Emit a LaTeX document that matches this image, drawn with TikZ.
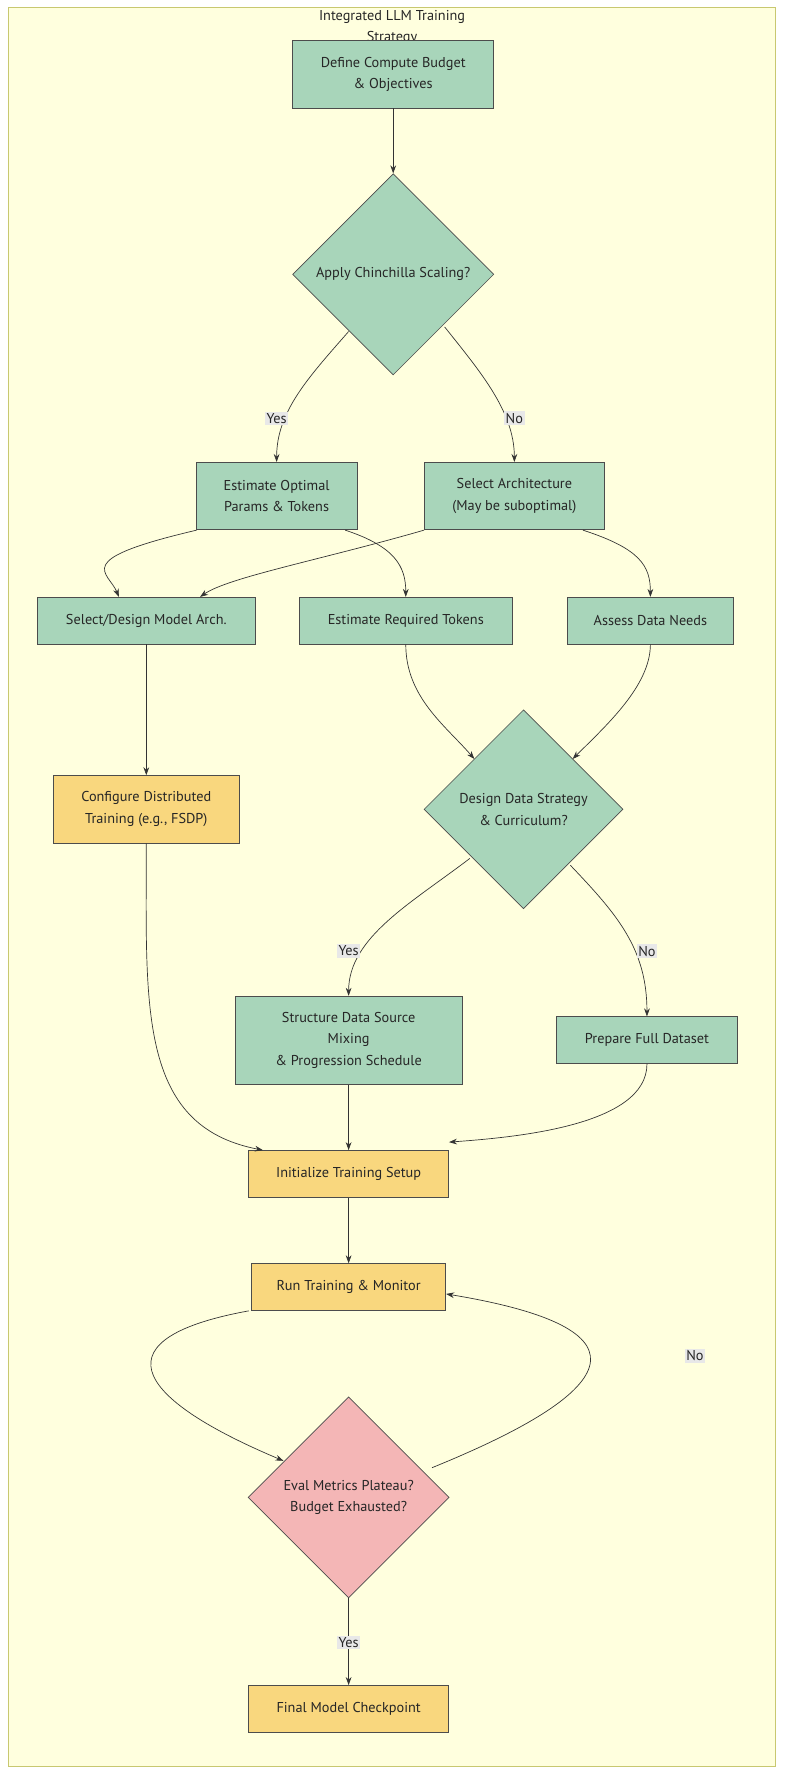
\documentclass[tikz,border=0pt]{standalone}
\usepackage{fontspec}
\setmainfont{PT Sans}
\usetikzlibrary{shapes.geometric,arrows.meta}
\definecolor{grn}{HTML}{A8D5BA}
\definecolor{org}{HTML}{F9D77E}
\definecolor{pnk}{HTML}{F4B6B6}
\definecolor{frm}{HTML}{FFFFDE}
\definecolor{frb}{HTML}{C8C870}
\definecolor{lbl}{HTML}{E8E8E8}
\begin{document}
\begin{tikzpicture}[x=1pt,y=-1pt,
 every node/.style={font=\fontsize{12.5}{19}\selectfont,text=black!85,align=center},
 box/.style={draw=black!70,line width=0.6pt,inner sep=0pt},
 dia/.style={draw=black!70,line width=0.6pt,diamond,inner sep=0pt,minimum width=176pt,minimum height=176pt},
 lab/.style={fill=lbl,inner sep=1.5pt,font=\fontsize{12.5}{14}\selectfont},
 edge/.style={draw=black!80,line width=0.6pt,-{Stealth[length=7pt,width=5pt]}}]
\useasboundingbox (0,0) rectangle (686,1559);
\draw[fill=frm,draw=frb,line width=0.6pt] (7,6) rectangle (678,1545);
\begin{scope}
\clip (7,6) rectangle (678,35);
\node (title) at (343,24) {Integrated LLM Training\\Strategy};
\end{scope}
\node[box,fill=grn,minimum width=176pt,minimum height=59pt] (def) at (344,65) {Define Compute Budget\\\& Objectives};
\node[dia,fill=grn] (d1) at (344,240) {Apply Chinchilla Scaling?};
\node[box,fill=grn,minimum width=141pt,minimum height=59pt] (eo) at (242,434) {Estimate Optimal\\Params \& Tokens};
\node[box,fill=grn,minimum width=158pt,minimum height=59pt] (sa) at (450,434) {Select Architecture\\(May be suboptimal)};
\node[box,fill=grn,minimum width=190pt,minimum height=41pt] (sd) at (128,543) {Select/Design Model Arch.};
\node[box,fill=grn,minimum width=186pt,minimum height=41pt] (er) at (355,543) {Estimate Required Tokens};
\node[box,fill=grn,minimum width=145pt,minimum height=41pt] (ad) at (569,543) {Assess Data Needs};
\node[dia,fill=grn,minimum width=174pt,minimum height=174pt] (d2) at (458,708) {Design Data Strategy\\\& Curriculum?};
\node[box,fill=org,minimum width=163pt,minimum height=59pt] (cd) at (128,708) {Configure Distributed\\Training (e.g., FSDP)};
\node[box,fill=grn,minimum width=199pt,minimum height=77pt] (sds) at (305,910) {Structure Data Source\\Mixing\\\& Progression Schedule};
\node[box,fill=grn,minimum width=158pt,minimum height=41pt] (pf) at (566,910) {Prepare Full Dataset};
\node[box,fill=org,minimum width=175pt,minimum height=41pt] (it) at (305,1027) {Initialize Training Setup};
\node[box,fill=org,minimum width=170pt,minimum height=41pt] (rt) at (305,1126) {Run Training \& Monitor};
\node[dia,fill=pnk] (d3) at (305,1310) {Eval Metrics Plateau?\\Budget Exhausted?};
\node[box,fill=org,minimum width=175pt,minimum height=41pt] (fm) at (305,1495) {Final Model Checkpoint};

\draw[edge] (def) -- (d1);
\draw[edge] (d1.south west) ++(0,0) (305,290) .. controls (270,330) and (242,360) .. (eo.north);
\draw[edge] (389,286) .. controls (420,325) and (450,360) .. (sa.north);
\node[lab] (y1) at (242,366) {Yes};
\node[lab] (n1) at (450,366) {No};
\draw[edge] ([xshift=-70pt]eo.south) .. controls (60,490) and (95,500) .. ([xshift=-24pt]sd.north);
\draw[edge] ([xshift=60pt]eo.south) .. controls (345,478) and (355,495) .. (er.north);
\draw[edge] ([xshift=-79pt]sa.south) .. controls (280,490) and (200,505) .. ([xshift=47pt]sd.north);
\draw[edge] ([xshift=60pt]sa.south) .. controls (560,480) and (569,495) .. (ad.north);
\draw[edge] (er.south) .. controls (355,610) and (390,635) .. (415,664);
\draw[edge] (ad.south) .. controls (569,600) and (530,635) .. (501,664);
\draw[edge] (sd) -- (cd);
\draw[edge] (411,751) .. controls (360,790) and (305,820) .. (sds.north);
\draw[edge] (499,757) .. controls (540,800) and (566,830) .. (pf.north);
\node[lab] (y2) at (305,832) {Yes};
\node[lab] (n2) at (566,832) {No};
\draw[edge] (cd.south) .. controls (128,880) and (120,985) .. ([xshift=-75pt]it.north);
\draw[edge] (sds) -- (it);
\draw[edge] (pf.south) .. controls (566,985) and (450,995) .. ([yshift=7pt]it.north east);
\draw[edge] (it) -- (rt);
\draw[edge] ([xshift=-2pt]rt.south west) .. controls (90,1170) and (110,1220) .. (248,1278);
\draw[edge] (378,1284) .. controls (560,1210) and (560,1160) .. ([yshift=-6pt]rt.east);
\node[lab] (n3) at (608,1186) {No};
\draw[edge] (d3) -- (fm);
\node[lab] (y3) at (305,1437) {Yes};
\end{tikzpicture}
\end{document}
